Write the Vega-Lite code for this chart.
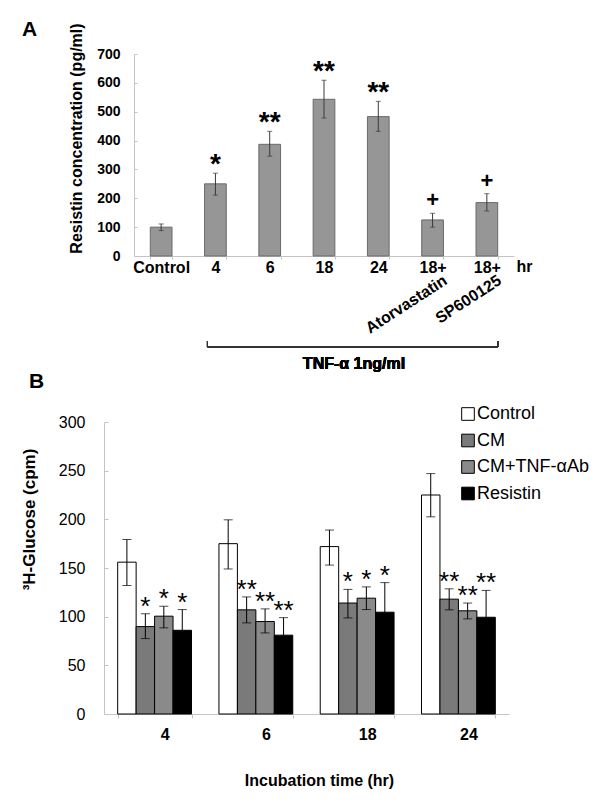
{
  "$schema": "https://vega.github.io/schema/vega-lite/v6.json",
  "background": "white",
  "padding": {"left": 20, "top": 18, "right": 5, "bottom": 5},
  "config": {
    "view": {"stroke": null},
    "font": "Liberation Sans",
    "axis": {"grid": false, "domainColor": "#c4c4c4", "tickColor": "#c4c4c4", "labelColor": "black", "titleColor": "black", "labelFont": "Liberation Sans", "titleFont": "Liberation Sans", "labelOverlap": false},
    "title": {"color": "black", "font": "Liberation Sans"}
  },
  "resolve": {"legend": {"color": "independent"}, "scale": {"color": "independent", "x": "independent", "y": "independent"}},
  "bounds": "flush",
  "spacing": 166,
  "vconcat": [
    {
      "title": {"text": "A", "anchor": "start", "frame": "group", "fontSize": 21, "fontWeight": "bold", "dx": -82, "dy": 50, "offset": 16, "baseline": "alphabetic"},
      "width": 410,
      "height": 202,
      "data": {"values": [
        {"cat": "Control", "value": 100, "lo": 88, "hi": 111, "sig": "", "sub": ""},
        {"cat": "4", "value": 250, "lo": 211, "hi": 287, "sig": "*", "sub": ""},
        {"cat": "6", "value": 387, "lo": 346, "hi": 432, "sig": "**", "sub": ""},
        {"cat": "18", "value": 543, "lo": 478, "hi": 609, "sig": "**", "sub": ""},
        {"cat": "24", "value": 483, "lo": 432, "hi": 536, "sig": "**", "sub": ""},
        {"cat": "18+A", "value": 125, "lo": 100, "hi": 148, "sig": "+", "sub": "Atorvastatin"},
        {"cat": "18+S", "value": 185, "lo": 156, "hi": 216, "sig": "+", "sub": "SP600125"}
      ]},
      "encoding": {
        "x": {"field": "cat", "type": "nominal", "sort": null,
          "scale": {"domain": ["Control", "4", "6", "18", "24", "18+A", "18+S"], "range": [30, 410], "paddingInner": 0.6, "paddingOuter": 0.3},
          "axis": {"title": "hr", "titleX": 412, "titleY": 15.7, "titleAlign": "left", "titleBaseline": "alphabetic", "titleFontSize": 16, "titleFontWeight": "bold",
            "labelExpr": "indexof(datum.label, '18+') == 0 ? '18+' : datum.label", "labelAngle": 0, "labelFontSize": 16, "labelFontWeight": "bold", "labelPadding": 0, "tickSize": 3, "tickBand": "extent"}}
      },
      "layer": [
        {
          "mark": {"type": "bar", "fill": "#969696", "stroke": "#6a6a6a", "strokeWidth": 1},
          "encoding": {
            "y": {"field": "value", "type": "quantitative",
              "scale": {"domain": [0, 700], "nice": false},
              "axis": {"title": "Resistin concentration (pg/ml)", "titleFontSize": 16, "titleFontWeight": "bold", "titleY": 84, "titlePadding": 12,
                "values": [0, 100, 200, 300, 400, 500, 600, 700], "offset": -30, "labelFontSize": 14, "labelFontWeight": "bold", "tickSize": -3, "labelPadding": 17}}
          }
        },
        {
          "mark": {"type": "rule", "color": "#3a3a3a", "strokeWidth": 1},
          "encoding": {
            "y": {"field": "lo", "type": "quantitative",
              "axis": {"title": "Resistin concentration (pg/ml)", "titleFontSize": 16, "titleFontWeight": "bold", "titleY": 84, "titlePadding": 12,
                "values": [0, 100, 200, 300, 400, 500, 600, 700], "offset": -30, "labelFontSize": 14, "labelFontWeight": "bold", "tickSize": -3, "labelPadding": 17}},
            "y2": {"field": "hi"}}
        },
        {
          "mark": {"type": "tick", "color": "#3a3a3a", "size": 5, "thickness": 1, "orient": "horizontal"},
          "encoding": {
            "y": {"field": "lo", "type": "quantitative",
              "axis": {"title": "Resistin concentration (pg/ml)", "titleFontSize": 16, "titleFontWeight": "bold", "titleY": 84, "titlePadding": 12,
                "values": [0, 100, 200, 300, 400, 500, 600, 700], "offset": -30, "labelFontSize": 14, "labelFontWeight": "bold", "tickSize": -3, "labelPadding": 17}}}
        },
        {
          "mark": {"type": "tick", "color": "#3a3a3a", "size": 5, "thickness": 1, "orient": "horizontal"},
          "encoding": {
            "y": {"field": "hi", "type": "quantitative",
              "axis": {"title": "Resistin concentration (pg/ml)", "titleFontSize": 16, "titleFontWeight": "bold", "titleY": 84, "titlePadding": 12,
                "values": [0, 100, 200, 300, 400, 500, 600, 700], "offset": -30, "labelFontSize": 14, "labelFontWeight": "bold", "tickSize": -3, "labelPadding": 17}}}
        },
        {
          "transform": [{"filter": "indexof(datum.sig, '*') >= 0"}],
          "mark": {"type": "text", "fontSize": 28, "fontWeight": "bold", "baseline": "alphabetic", "align": "center", "color": "black", "dy": 0},
          "encoding": {
            "y": {"field": "hi", "type": "quantitative",
              "axis": {"title": "Resistin concentration (pg/ml)", "titleFontSize": 16, "titleFontWeight": "bold", "titleY": 84, "titlePadding": 12,
                "values": [0, 100, 200, 300, 400, 500, 600, 700], "offset": -30, "labelFontSize": 14, "labelFontWeight": "bold", "tickSize": -3, "labelPadding": 17}},
            "text": {"field": "sig"}}
        },
        {
          "transform": [{"filter": "datum.sig == '+'"}],
          "mark": {"type": "text", "fontSize": 22, "fontWeight": "bold", "baseline": "alphabetic", "align": "center", "color": "black", "dy": -6},
          "encoding": {
            "y": {"field": "hi", "type": "quantitative",
              "axis": {"title": "Resistin concentration (pg/ml)", "titleFontSize": 16, "titleFontWeight": "bold", "titleY": 84, "titlePadding": 12,
                "values": [0, 100, 200, 300, 400, 500, 600, 700], "offset": -30, "labelFontSize": 14, "labelFontWeight": "bold", "tickSize": -3, "labelPadding": 17}},
            "text": {"field": "sig"}}
        },
        {
          "transform": [{"filter": "datum.sub != ''"}],
          "mark": {"type": "text", "angle": 327, "align": "right", "baseline": "middle", "fontSize": 16, "fontWeight": "bold", "color": "black", "xOffset": 13, "yOffset": 23},
          "encoding": {
            "y": {"datum": 0, "type": "quantitative",
              "axis": {"title": "Resistin concentration (pg/ml)", "titleFontSize": 16, "titleFontWeight": "bold", "titleY": 84, "titlePadding": 12,
                "values": [0, 100, 200, 300, 400, 500, 600, 700], "offset": -30, "labelFontSize": 14, "labelFontWeight": "bold", "tickSize": -3, "labelPadding": 17}},
            "text": {"field": "sub"}}
        },
        {
          "mark": {"type": "rule", "color": "#333333", "strokeWidth": 1, "xOffset": -8, "x2Offset": 11, "yOffset": 91},
          "encoding": {
            "x": {"datum": "4", "type": "nominal",
              "axis": {"title": "hr", "titleX": 412, "titleY": 15.7, "titleAlign": "left", "titleBaseline": "alphabetic", "titleFontSize": 16, "titleFontWeight": "bold",
                "labelExpr": "indexof(datum.label, '18+') == 0 ? '18+' : datum.label", "labelAngle": 0, "labelFontSize": 16, "labelFontWeight": "bold", "labelPadding": 0, "tickSize": 3, "tickBand": "extent"}},
            "x2": {"datum": "18+S"},
            "y": {"datum": 0, "type": "quantitative",
              "axis": {"title": "Resistin concentration (pg/ml)", "titleFontSize": 16, "titleFontWeight": "bold", "titleY": 84, "titlePadding": 12,
                "values": [0, 100, 200, 300, 400, 500, 600, 700], "offset": -30, "labelFontSize": 14, "labelFontWeight": "bold", "tickSize": -3, "labelPadding": 17}}}
        },
        {
          "mark": {"type": "rule", "color": "#333333", "strokeWidth": 1, "xOffset": -8, "yOffset": 85, "y2Offset": 91},
          "encoding": {
            "x": {"datum": "4", "type": "nominal",
              "axis": {"title": "hr", "titleX": 412, "titleY": 15.7, "titleAlign": "left", "titleBaseline": "alphabetic", "titleFontSize": 16, "titleFontWeight": "bold",
                "labelExpr": "indexof(datum.label, '18+') == 0 ? '18+' : datum.label", "labelAngle": 0, "labelFontSize": 16, "labelFontWeight": "bold", "labelPadding": 0, "tickSize": 3, "tickBand": "extent"}},
            "y": {"datum": 0, "type": "quantitative",
              "axis": {"title": "Resistin concentration (pg/ml)", "titleFontSize": 16, "titleFontWeight": "bold", "titleY": 84, "titlePadding": 12,
                "values": [0, 100, 200, 300, 400, 500, 600, 700], "offset": -30, "labelFontSize": 14, "labelFontWeight": "bold", "tickSize": -3, "labelPadding": 17}},
            "y2": {"datum": 0}}
        },
        {
          "mark": {"type": "rule", "color": "#333333", "strokeWidth": 1, "xOffset": 11, "yOffset": 85, "y2Offset": 91},
          "encoding": {
            "x": {"datum": "18+S", "type": "nominal",
              "axis": {"title": "hr", "titleX": 412, "titleY": 15.7, "titleAlign": "left", "titleBaseline": "alphabetic", "titleFontSize": 16, "titleFontWeight": "bold",
                "labelExpr": "indexof(datum.label, '18+') == 0 ? '18+' : datum.label", "labelAngle": 0, "labelFontSize": 16, "labelFontWeight": "bold", "labelPadding": 0, "tickSize": 3, "tickBand": "extent"}},
            "y": {"datum": 0, "type": "quantitative",
              "axis": {"title": "Resistin concentration (pg/ml)", "titleFontSize": 16, "titleFontWeight": "bold", "titleY": 84, "titlePadding": 12,
                "values": [0, 100, 200, 300, 400, 500, 600, 700], "offset": -30, "labelFontSize": 14, "labelFontWeight": "bold", "tickSize": -3, "labelPadding": 17}},
            "y2": {"datum": 0}}
        },
        {
          "mark": {"type": "text", "fontSize": 16, "fontWeight": "bold", "baseline": "top", "align": "center", "color": "black", "xOffset": 30, "yOffset": 100},
          "encoding": {
            "x": {"datum": "18", "type": "nominal",
              "axis": {"title": "hr", "titleX": 412, "titleY": 15.7, "titleAlign": "left", "titleBaseline": "alphabetic", "titleFontSize": 16, "titleFontWeight": "bold",
                "labelExpr": "indexof(datum.label, '18+') == 0 ? '18+' : datum.label", "labelAngle": 0, "labelFontSize": 16, "labelFontWeight": "bold", "labelPadding": 0, "tickSize": 3, "tickBand": "extent"}},
            "y": {"datum": 0, "type": "quantitative",
              "axis": {"title": "Resistin concentration (pg/ml)", "titleFontSize": 16, "titleFontWeight": "bold", "titleY": 84, "titlePadding": 12,
                "values": [0, 100, 200, 300, 400, 500, 600, 700], "offset": -30, "labelFontSize": 14, "labelFontWeight": "bold", "tickSize": -3, "labelPadding": 17}},
            "text": {"value": "TNF-α 1ng/ml"}}
        }
      ]
    },
    {
      "title": {"text": "B", "anchor": "start", "frame": "group", "fontSize": 21, "fontWeight": "bold", "dx": -75, "dy": 19, "offset": 15, "baseline": "alphabetic"},
      "width": 405,
      "height": 292,
      "data": {"values": [
        {"time": "4", "grp": "Control", "value": 156, "lo": 132, "hi": 179.3, "sig": ""},
        {"time": "4", "grp": "CM", "value": 89.8, "lo": 77.5, "hi": 103, "sig": "*"},
        {"time": "4", "grp": "CM+TNF-αAb", "value": 100.5, "lo": 88.5, "hi": 110.7, "sig": "*"},
        {"time": "4", "grp": "Resistin", "value": 86, "lo": 64.7, "hi": 107.3, "sig": "*"},
        {"time": "6", "grp": "Control", "value": 175, "lo": 149, "hi": 199.5, "sig": ""},
        {"time": "6", "grp": "CM", "value": 107, "lo": 93.6, "hi": 120.3, "sig": "**"},
        {"time": "6", "grp": "CM+TNF-αAb", "value": 95, "lo": 83.3, "hi": 108, "sig": "**"},
        {"time": "6", "grp": "Resistin", "value": 81, "lo": 63, "hi": 99, "sig": "**"},
        {"time": "18", "grp": "Control", "value": 172, "lo": 153, "hi": 189, "sig": ""},
        {"time": "18", "grp": "CM", "value": 114, "lo": 98.7, "hi": 128, "sig": "*"},
        {"time": "18", "grp": "CM+TNF-αAb", "value": 119, "lo": 107.3, "hi": 130.6, "sig": "*"},
        {"time": "18", "grp": "Resistin", "value": 104.6, "lo": 74, "hi": 135, "sig": "*"},
        {"time": "24", "grp": "Control", "value": 225, "lo": 202.6, "hi": 247, "sig": ""},
        {"time": "24", "grp": "CM", "value": 118, "lo": 107, "hi": 128.6, "sig": "**"},
        {"time": "24", "grp": "CM+TNF-αAb", "value": 106, "lo": 97.7, "hi": 114, "sig": "**"},
        {"time": "24", "grp": "Resistin", "value": 99.4, "lo": 72, "hi": 127, "sig": "**"}
      ]},
      "encoding": {
        "x": {"field": "time", "type": "nominal", "sort": ["4", "6", "18", "24"],
          "scale": {"paddingInner": 0.271, "paddingOuter": 0.135},
          "axis": {"title": "Incubation time (hr)", "titleFontSize": 16, "titleFontWeight": "bold", "titleX": 215, "titleY": 58.6, "titleBaseline": "top",
            "labelAngle": 0, "labelFontSize": 16, "labelFontWeight": "bold", "labelOffset": 10, "labelPadding": 8, "tickSize": 4, "tickBand": "extent"}},
        "xOffset": {"field": "grp", "type": "nominal", "sort": ["Control", "CM", "CM+TNF-αAb", "Resistin"], "scale": {"paddingInner": 0, "paddingOuter": 0}}
      },
      "layer": [
        {
          "mark": {"type": "bar", "stroke": "black", "strokeWidth": 1},
          "encoding": {
            "y": {"field": "value", "type": "quantitative",
              "scale": {"domain": [0, 300], "nice": false},
              "axis": {"title": "³H-Glucose (cpm)", "titleFontSize": 17, "titleFontWeight": "bold", "titleY": 97, "titleAnchor": "middle", "titleAlign": "center", "titlePadding": 20,
                "values": [0, 50, 100, 150, 200, 250, 300], "labelFontSize": 16, "tickSize": -4, "labelPadding": 23}},
            "color": {"field": "grp", "type": "nominal",
              "scale": {"domain": ["Control", "CM", "CM+TNF-αAb", "Resistin"], "range": ["#ffffff", "#7a7a7a", "#8a8a8a", "#000000"]},
              "legend": {"orient": "none", "legendX": 355, "legendY": -17, "title": null, "symbolType": "square", "symbolSize": 160,
                "symbolStrokeColor": "black", "symbolStrokeWidth": 1, "symbolOpacity": 1, "labelFontSize": 18, "labelColor": "black", "labelOffset": 0, "rowPadding": 8.5, "padding": 0}}
          }
        },
        {
          "mark": {"type": "rule", "color": "black", "strokeWidth": 1},
          "encoding": {
            "y": {"field": "lo", "type": "quantitative",
              "axis": {"title": "³H-Glucose (cpm)", "titleFontSize": 17, "titleFontWeight": "bold", "titleY": 97, "titleAnchor": "middle", "titleAlign": "center", "titlePadding": 20,
                "values": [0, 50, 100, 150, 200, 250, 300], "labelFontSize": 16, "tickSize": -4, "labelPadding": 23}},
            "y2": {"field": "hi"}}
        },
        {
          "mark": {"type": "tick", "color": "black", "size": 9, "thickness": 1, "orient": "horizontal"},
          "encoding": {
            "y": {"field": "lo", "type": "quantitative",
              "axis": {"title": "³H-Glucose (cpm)", "titleFontSize": 17, "titleFontWeight": "bold", "titleY": 97, "titleAnchor": "middle", "titleAlign": "center", "titlePadding": 20,
                "values": [0, 50, 100, 150, 200, 250, 300], "labelFontSize": 16, "tickSize": -4, "labelPadding": 23}}}
        },
        {
          "mark": {"type": "tick", "color": "black", "size": 9, "thickness": 1, "orient": "horizontal"},
          "encoding": {
            "y": {"field": "hi", "type": "quantitative",
              "axis": {"title": "³H-Glucose (cpm)", "titleFontSize": 17, "titleFontWeight": "bold", "titleY": 97, "titleAnchor": "middle", "titleAlign": "center", "titlePadding": 20,
                "values": [0, 50, 100, 150, 200, 250, 300], "labelFontSize": 16, "tickSize": -4, "labelPadding": 23}}}
        },
        {
          "transform": [{"filter": "datum.sig != ''"}],
          "mark": {"type": "text", "fontSize": 26, "baseline": "alphabetic", "align": "center", "color": "black", "dy": 1},
          "encoding": {
            "y": {"field": "hi", "type": "quantitative",
              "axis": {"title": "³H-Glucose (cpm)", "titleFontSize": 17, "titleFontWeight": "bold", "titleY": 97, "titleAnchor": "middle", "titleAlign": "center", "titlePadding": 20,
                "values": [0, 50, 100, 150, 200, 250, 300], "labelFontSize": 16, "tickSize": -4, "labelPadding": 23}},
            "text": {"field": "sig"}}
        }
      ]
    }
  ]
}
